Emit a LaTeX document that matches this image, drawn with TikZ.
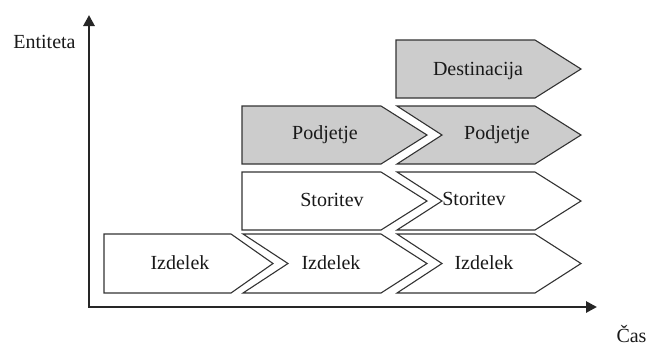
\documentclass[tikz,border=0pt]{standalone}
\usepackage{fontspec}
\setmainfont{Liberation Serif}
\usetikzlibrary{arrows.meta}
\tikzset{
  chev/.style={draw=black!80, line width=1.1pt, line join=miter},
  grayfill/.style={fill=black!20},
  lbl/.style={anchor=base, inner sep=0pt, font=\fontsize{20}{24}\selectfont, text=black!90},
  axis/.style={line width=2.8pt, draw=black!85, {Triangle[length=11pt,width=11pt]}-{Triangle[length=11pt,width=11pt]}},
}
% L, notch, S, d, T, B
\newcommand{\chevron}[7]{%
  \draw[chev,#7] (#1,#5) -- (#3,#5) -- ({#3+#4},{(#5+#6)/2}) -- (#3,#6) -- (#1,#6) -- ({#1+#2},{(#5+#6)/2}) -- cycle;}
\begin{document}
\begin{tikzpicture}[x=1pt,y=-1pt]
\useasboundingbox (0,0) rectangle (647,346);
% axes
\coordinate (ytip) at (89,15);
\coordinate (o) at (89,307);
\coordinate (xtip) at (597,307);
\draw[axis] (ytip) -- (o) -- (xtip);
\node[lbl] (ent) at (44.5,48) {Entiteta};
\node[lbl] (cas) at (631.5,342) {Čas};
% Izdelek row
\chevron{104}{0}{231}{42}{234}{293}{fill=white}
\chevron{243}{45}{381}{46}{234}{293}{fill=white}
\chevron{397}{45}{535}{46}{234}{293}{fill=white}
% Storitev row
\chevron{242}{0}{381}{46}{172}{230}{fill=white}
\chevron{397}{45}{535}{46}{172}{230}{fill=white}
% Podjetje row
\chevron{242}{0}{381}{46}{106}{164}{grayfill}
\chevron{397}{45}{535}{46}{106}{164}{grayfill}
% Destinacija
\chevron{396}{0}{535}{46}{40}{98}{grayfill}
% labels
\node[lbl] (iz1) at (180,269) {Izdelek};
\node[lbl] (iz2) at (331,269) {Izdelek};
\node[lbl] (iz3) at (484,269) {Izdelek};
\node[lbl] (st1) at (332,206) {Storitev};
\node[lbl] (st2) at (474,205) {Storitev};
\node[lbl] (po1) at (325,139) {Podjetje};
\node[lbl] (po2) at (497,139) {Podjetje};
\node[lbl] (de) at (478,75) {Destinacija};
\end{tikzpicture}
\end{document}
